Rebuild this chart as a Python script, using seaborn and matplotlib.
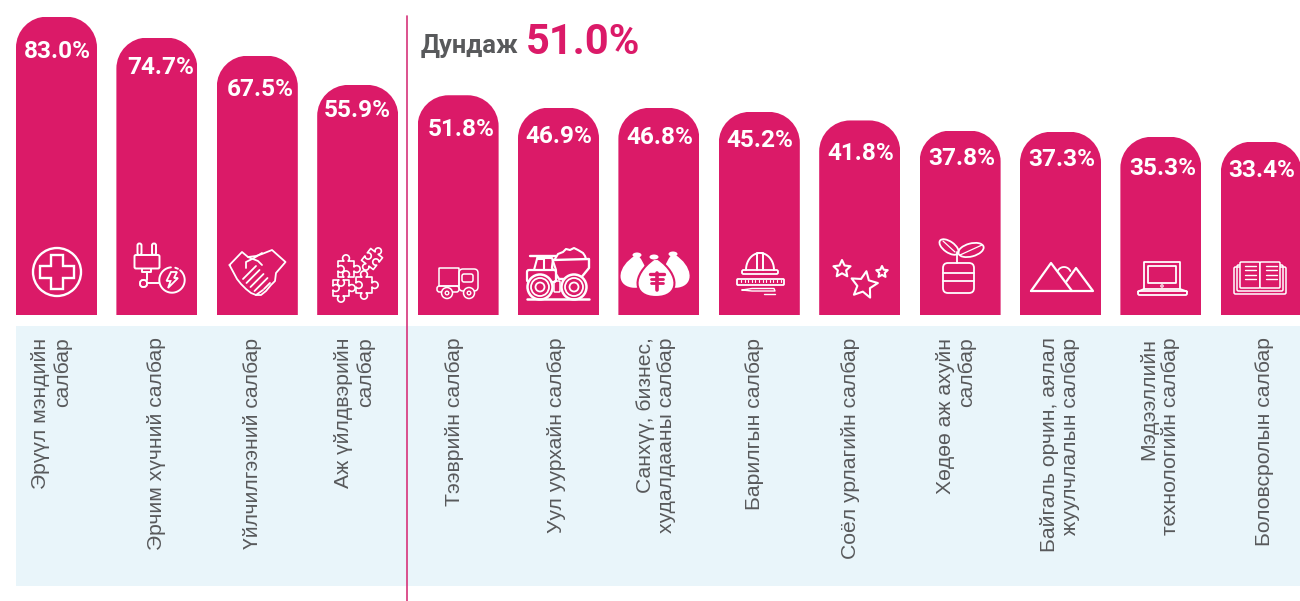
import numpy as np
import pandas as pd
import matplotlib
matplotlib.use('Agg')
import matplotlib.pyplot as plt
import seaborn as sns
from matplotlib.patches import Circle, Ellipse, Polygon, Rectangle, FancyBboxPatch, PathPatch
from matplotlib.path import Path
from matplotlib.transforms import Affine2D

categories = [
    "Эрүүл мэндийн\nсалбар", "Эрчим хүчний салбар", "Үйлчилгээний салбар",
    "Аж үйлдвэрийн\nсалбар", "Тээврийн салбар", "Уул уурхайн салбар",
    "Санхүү, бизнес,\nхудалдааны салбар", "Барилгын салбар", "Соёл урлагийн салбар",
    "Хөдөө аж ахуйн\nсалбар", "Байгаль орчин, аялал\nжуулчлалын салбар",
    "Мэдээллийн\nтехнологийн салбар", "Боловсролын салбар",
]
values = [83.0, 74.7, 67.5, 55.9, 51.8, 46.9, 46.8, 45.2, 41.8, 37.8, 37.3, 35.3, 33.4]
average_label = "Дундаж"
average_value = 51.0

PINK = '#DB1A68'
GREY = '#58595B'
PANEL = '#E9F5FA'
W, H = 1300, 601

# layout in pixels
STEP = 100.4
FIRST_CENTER = 56.5
BASE_PX = 315
PX_PER_UNIT = 2.52
FLOOR = -35.4
RADIUS = 31
# small offsets of value labels from the bar centre / top
label_dx = [0.5, 3.5, 2.5, -0.5, 3.5, 0.5, 1, 0.5, 1, 1.5, 1, 1.5, 0.5]
label_dy = [35, 30, 34, 26, 34, 29, 30, 29, 33, 28, 28, 32, 29]
# centre of the rotated text blocks
text_x = [51.5, 157, 252, 354.5, 455, 556, 656, 754, 851, 956, 1060, 1159.5, 1264]


def line(ax, xs, ys, lw=1.4, **kw):
    ax.plot(xs, ys, color='white', lw=lw, solid_capstyle='round', solid_joinstyle='round', **kw)


def box(ax, x0, y0, x1, y1, r=1.5, lw=1.4, fc='none'):
    ax.add_patch(FancyBboxPatch((x0 + r, y0 + r), x1 - x0 - 2 * r, y1 - y0 - 2 * r,
                                boxstyle=f"round,pad={r},rounding_size={r}",
                                fc=fc, ec='white', lw=lw))


def ring(ax, x, y, r, lw=1.4, fc='none', ec='white'):
    ax.add_patch(Circle((x, y), r, fc=fc, ec=ec, lw=lw))


def star(ax, x, y, r, rot=0.0, lw=1.5):
    a = np.deg2rad(-90 + rot + np.arange(10) * 36)
    rr = np.where(np.arange(10) % 2 == 0, r, r * 0.48)
    ax.add_patch(Polygon(np.c_[x + rr * np.cos(a), y + rr * np.sin(a)], closed=True,
                         fc='none', ec='white', lw=lw, joinstyle='round'))


def puzzle(ax, x, y, s, rot=0.0, knobs=(1, 1, -1, -1)):
    # square piece with a round knob (1) or notch (-1) on each side
    w, d = 0.26 * s, 0.34 * s
    r = np.hypot(w, d)
    pts = []
    for side, k in enumerate(knobs):
        a0 = np.arctan2(k * d, -w)
        a1 = np.arctan2(k * d, w) + k * 2 * np.pi
        arc = np.linspace(a0, a1, 14)
        edge = [(-s, -s)] + [(r * np.cos(a), -s - k * d + r * np.sin(a)) for a in arc]
        ang = np.deg2rad(side * 90 + rot)
        c, sn = np.cos(ang), np.sin(ang)
        pts += [(x + px * c - py * sn, y + px * sn + py * c) for px, py in edge]
    ax.add_patch(Polygon(pts, closed=True, fc=PINK, ec='white', lw=1.2, joinstyle='round'))


def bag(ax, cx, top, bottom, w, rot=0.0, ec='none'):
    y = top
    h = bottom - top
    verts = [(cx - 2, y), (cx - 0.75 * w, y + 0.42 * h), (cx - 0.72 * w, y + h), (cx, y + h),
             (cx + 0.72 * w, y + h), (cx + 0.75 * w, y + 0.42 * h), (cx + 2, y), (cx - 2, y)]
    codes = [Path.MOVETO, Path.CURVE4, Path.CURVE4, Path.CURVE4,
             Path.CURVE4, Path.CURVE4, Path.CURVE4, Path.CLOSEPOLY]
    tr = Affine2D().rotate_deg_around(cx, y, rot) + ax.transData
    ax.add_patch(PathPatch(Path(verts, codes), fc='white', ec=ec, lw=1.5, transform=tr))


def draw_icons(ax):
    # health
    ring(ax, 57, 272, 24, lw=1.7)
    a, b = 5.8, 17.3
    cross = [(-a, -b), (a, -b), (a, -a), (b, -a), (b, a), (a, a), (a, b), (-a, b), (-a, a), (-b, a), (-b, -a), (-a, -a)]
    ax.add_patch(Polygon([(57 + p, 272 + q) for p, q in cross], closed=True, fc='none', ec='white', lw=1.7))

    # energy
    box(ax, 134.5, 255, 159.5, 268.5, r=1.5)
    box(ax, 137.5, 243.5, 141.5, 255, r=1.9)
    box(ax, 152, 243.5, 156, 255, r=1.9)
    line(ax, [142, 142, 151, 151], [268.5, 272, 272, 268.5])
    line(ax, [147, 147], [272, 279.5])
    box(ax, 140, 280, 147, 287, r=3)
    line(ax, [147, 159], [283, 283])
    t = np.linspace(np.deg2rad(-50), np.deg2rad(265), 60)
    line(ax, 172 + 12.7 * np.cos(t), 280 + 12.7 * np.sin(t))
    line(ax, [172 + 12.7 * np.cos(np.deg2rad(-75)), 172 + 12.7 * np.cos(np.deg2rad(-62))],
         [280 + 12.7 * np.sin(np.deg2rad(-75)), 280 + 12.7 * np.sin(np.deg2rad(-62))])
    ax.add_patch(Polygon([(171, 272), (177, 272), (174, 278), (178, 278), (168, 288), (170.5, 281), (166.5, 281)],
                         closed=True, fc='none', ec='white', lw=1.3))

    # services, handshake
    line(ax, [229.5, 242, 248, 256, 262, 272, 285.5, 276, 275, 271, 266, 261, 256, 251, 246, 241, 237, 229.5],
         [265, 252, 257, 256, 254, 250, 262, 273, 281, 285, 291, 295, 295, 293, 289, 284, 279, 265], lw=1.3)
    line(ax, [248, 258, 262], [257, 261, 265], lw=1.3)
    line(ax, [262, 254, 246, 246], [253, 258, 262, 268], lw=1.3)
    for x0, y0 in [(243, 279), (246.5, 283), (250.5, 287), (254.5, 291)]:
        line(ax, [x0, x0 + 13], [y0, y0 - 13], lw=1.3)
    line(ax, [256, 263], [295, 290], lw=1.3)
    line(ax, [264, 270], [289, 283], lw=1.3)

    # industry, puzzle pieces
    puzzle(ax, 372, 259, 7.5, rot=38, knobs=(1, -1, 1, -1))
    puzzle(ax, 346, 269, 8, knobs=(1, 1, -1, -1))
    puzzle(ax, 341, 288, 8, knobs=(-1, 1, 1, -1))
    puzzle(ax, 364, 285, 8, knobs=(1, 1, 1, -1))

    # transport
    box(ax, 439, 268, 459, 286, r=0.5, lw=1.1)
    box(ax, 459, 269, 478, 291, r=4, lw=1.1)
    box(ax, 462, 274, 473, 282, r=2, lw=1.1)
    box(ax, 437, 286, 459, 292, r=2.5, lw=1.1)
    for cx in (447, 469):
        ring(ax, cx, 293, 5.5, lw=1.1, fc=PINK)
        ring(ax, cx, 293, 1.8, lw=1.0)

    # mining truck
    ax.add_patch(Polygon([(553, 260), (589, 259), (589, 268), (580, 279), (559, 279), (552, 268)],
                         closed=True, fc=PINK, ec='white', lw=1.7, joinstyle='round'))
    line(ax, [555, 558, 563, 566, 570, 574, 578, 583, 585, 586],
         [259, 254, 252, 249, 250, 248, 250, 253, 256, 259], lw=1.5)
    line(ax, [530, 556], [256, 256], lw=1.7)
    line(ax, [537, 552, 556, 556], [258, 258, 270, 279], lw=1.5)
    line(ax, [534, 537, 544, 544], [270, 259, 259, 270], lw=1.5)
    box(ax, 527, 270, 556, 282, r=2, lw=1.6, fc=PINK)
    for cx in (540, 574):
        ring(ax, cx, 287, 12.5, lw=1.8, fc=PINK)
        ring(ax, cx, 287, 9, lw=1.3)
        ring(ax, cx, 287, 4.5, lw=1.3)
    box(ax, 554, 281, 560, 292, r=1, lw=1.1)
    line(ax, [527, 589], [299, 299], lw=1.8)

    # finance, money bags
    bag(ax, 637, 256, 288, 23, rot=10)
    bag(ax, 673, 255, 288, 23, rot=-10)
    bag(ax, 656, 259, 297, 33, ec=PINK)
    for cx, cy in [(637, 255), (673, 254), (654, 257)]:
        ax.add_patch(Ellipse((cx, cy), 9, 5, fc='white', ec='none'))
    ax.plot([657, 657], [273, 290], color=PINK, lw=2.6)
    ax.plot([650, 664], [274, 274], color=PINK, lw=2.4)
    ax.plot([651, 663], [279, 279], color=PINK, lw=2)
    ax.plot([651, 663], [283, 283], color=PINK, lw=2)

    # construction
    t = np.linspace(np.pi, 2 * np.pi, 40)
    line(ax, 760 + 14 * np.cos(t), 270 + 17 * np.sin(t), lw=1.4)
    line(ax, [757, 757, 763, 763], [270, 253, 253, 270], lw=1.4)
    box(ax, 742, 270, 778, 274, r=1.5, lw=1.3)
    box(ax, 737, 279, 784, 285, r=1, lw=1.3)
    for x0 in np.arange(741, 782, 3.6):
        line(ax, [x0, x0], [279.5, 282], lw=0.8)
    line(ax, [742, 752, 774, 775, 752, 742], [290, 288.5, 288.5, 291, 291, 290], lw=1.0)
    line(ax, [764, 775], [294, 294], lw=1.0)

    # culture
    star(ax, 842, 269, 9)
    star(ax, 864, 285, 14, rot=10)
    star(ax, 882, 272, 6)

    # agriculture
    box(ax, 943, 263, 974, 293, r=5, lw=1.3)
    line(ax, [943, 974], [273, 273], lw=1.3)
    line(ax, [943, 974], [281, 281], lw=1.3)
    line(ax, [957, 957], [252, 263], lw=1.3)
    ax.add_patch(Ellipse((949, 247), 22, 11, angle=35, fc='none', ec='white', lw=1.3))
    ax.add_patch(Ellipse((971, 250), 26, 13, angle=-15, fc='none', ec='white', lw=1.3))
    line(ax, [943, 955], [241, 252], lw=0.9)
    line(ax, [960, 982], [255, 245], lw=0.9)

    # environment
    line(ax, [1031, 1051, 1072], [291, 263, 291], lw=1.6)
    line(ax, [1066, 1076, 1093, 1031], [282, 268, 291, 291], lw=1.6)
    t = np.linspace(np.deg2rad(205), np.deg2rad(335), 20)
    line(ax, 1064 + 7 * np.cos(t), 274 + 7 * np.sin(t), lw=1.3)

    # IT, laptop
    box(ax, 1144, 262, 1180, 289, r=0.3, lw=1.3)
    box(ax, 1148, 266, 1176, 283, r=0.3, lw=1.3)
    ring(ax, 1162, 286, 1.2, lw=0.8)
    box(ax, 1138, 291, 1187, 295, r=1.5, lw=1.3)
    line(ax, [1138, 1144], [291.5, 289], lw=1.3)
    line(ax, [1187, 1180], [291.5, 289], lw=1.3)

    # education, book
    box(ax, 1234, 267, 1286, 294, r=1.5, lw=1.1)
    box(ax, 1237, 265, 1283, 291, r=1.5, lw=1.1)
    box(ax, 1240, 262, 1260, 288, r=1.2, lw=1.1, fc=PINK)
    box(ax, 1260, 262, 1280, 288, r=1.2, lw=1.1, fc=PINK)
    for y0 in (266, 270, 274.5, 279):
        line(ax, [1245, 1256], [y0, y0], lw=1.0)
        line(ax, [1266, 1277], [y0, y0], lw=1.0)


def rounded_top(x0, x1, top, base, r):
    k = 0.5523 * r
    verts = [(x0, base), (x0, top + r), (x0, top + r - k), (x0 + r - k, top), (x0 + r, top),
             (x1 - r, top), (x1 - r + k, top), (x1, top + r - k), (x1, top + r), (x1, base), (x0, base)]
    codes = [Path.MOVETO, Path.LINETO, Path.CURVE4, Path.CURVE4, Path.CURVE4,
             Path.LINETO, Path.CURVE4, Path.CURVE4, Path.CURVE4, Path.LINETO, Path.CLOSEPOLY]
    return Path(verts, codes)


def main():
    sns.set_theme(style="white")
    plt.rcParams['font.family'] = ['Roboto', 'DejaVu Sans']

    fig = plt.figure(figsize=(W / 100, H / 100), dpi=100)
    fig.patch.set_facecolor('white')

    # pixel overlay for the panel, divider, text and icons
    back = fig.add_axes([0, 0, 1, 1], zorder=0)
    back.set_xlim(0, W)
    back.set_ylim(H, 0)
    back.axis('off')
    back.add_patch(Rectangle((16, 326), 1284, 260, fc=PANEL, ec='none'))

    ax = fig.add_axes([0, 0, 1, 1], zorder=1)
    ax.patch.set_alpha(0)
    df = pd.DataFrame({"category": categories, "value": values})
    sns.barplot(data=df, x="category", y="value", color=PINK, saturation=1, width=0.807, ax=ax)
    ax.set_xlim(-FIRST_CENTER / STEP, (W - FIRST_CENTER) / STEP)
    ax.set_ylim(FLOOR - (H - BASE_PX) / PX_PER_UNIT, FLOOR + BASE_PX / PX_PER_UNIT)
    ax.axis('off')

    over = fig.add_axes([0, 0, 1, 1], zorder=2)
    over.set_xlim(0, W)
    over.set_ylim(H, 0)
    over.axis('off')
    over.patch.set_alpha(0)

    to_px = ax.transData + over.transData.inverted()
    for i, (bar, val) in enumerate(zip(ax.patches, values)):
        bar.set_y(FLOOR)
        bar.set_height(val - FLOOR)
        bar.set_linewidth(0)
        (x0, base), (x1, top) = to_px.transform([(bar.get_x(), FLOOR),
                                                 (bar.get_x() + bar.get_width(), val)])
        bar.set_clip_path(rounded_top(x0, x1, top, base, RADIUS), over.transData)
        over.text((x0 + x1) / 2 + label_dx[i], top + label_dy[i], f"{val:.1f}%", color='white',
                  fontsize=17.6, fontweight='bold', ha='center', va='center')
        over.text(text_x[i], 337.5, categories[i], rotation=90, rotation_mode='default',
                  ha='center', va='top', ma='right', color=GREY, fontsize=15.2, linespacing=1.18,
                  family=['Liberation Sans', 'DejaVu Sans'])

    draw_icons(over)

    over.plot([407, 407], [16, 601], color='#D6337A', lw=1.2)
    over.text(421, 46, average_label, color=GREY, fontsize=18.4, fontweight='bold', va='center', ha='left')
    over.text(526, 43, f"{average_value:.1f}%", color=PINK, fontsize=30, fontweight='bold', va='center', ha='left')
    over.set_xlim(0, W)
    over.set_ylim(H, 0)

    fig.savefig("out.png", dpi=100)
    plt.close(fig)


if __name__ == "__main__":
    main()
